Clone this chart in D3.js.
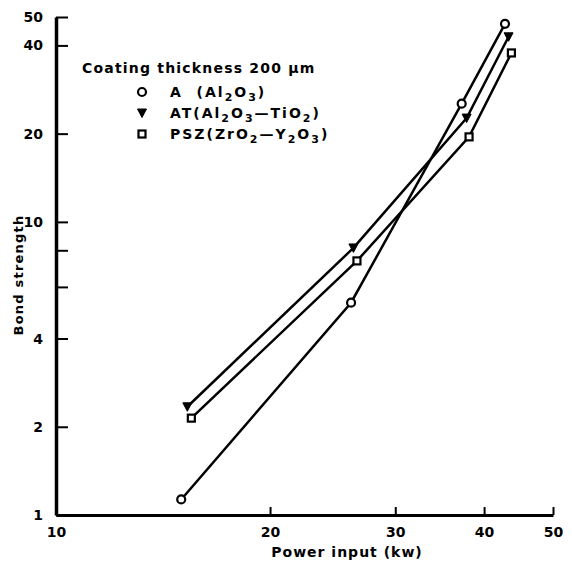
<!DOCTYPE html>
<html>
<head>
<meta charset="utf-8">
<script src="https://cdn.jsdelivr.net/npm/d3@7"></script>
<style>
  body { margin: 0; background: #fff; }
  svg text { font-family: "DejaVu Sans", sans-serif; font-weight: bold; fill: #000; }
  .axis path, .axis line { stroke: #000; }
</style>
</head>
<body>
<svg id="chart" width="572" height="570"></svg>
<script>
// power input (kW) and bond strength for each coating
var powerA   = [15.0, 26.0, 37.2, 42.8];
var bondA    = [1.13, 5.3, 25.3, 47.4];
var powerAT  = [15.3, 26.2, 37.8, 43.3];
var bondAT   = [2.34, 8.15, 22.6, 42.8];
var powerPSZ = [15.5, 26.5, 38.1, 43.7];
var bondPSZ  = [2.14, 7.36, 19.5, 37.7];

var xTickValues = [10, 20, 30, 40, 50];
var xTickLabels = ["10", "20", "30", "40", "50"];
var yTickValues = [1, 2, 4, 6, 8, 10, 20, 40, 50];
var yTickLabels = ["1", "2", "4", "", "", "10", "20", "40", "50"];

var svg = d3.select("#chart"),
    margin = {top: 17, right: 19, bottom: 55, left: 56},
    width = +svg.attr("width") - margin.left - margin.right,
    height = +svg.attr("height") - margin.top - margin.bottom;

var x = d3.scaleLog().domain([10, 50]).range([0, width]),
    y = d3.scaleLog().domain([1, 50]).range([height, 0]);

var g = svg.append("g")
    .attr("transform", "translate(" + margin.left + "," + margin.top + ")");

var xAxis = d3.axisBottom(x)
    .tickValues(xTickValues)
    .tickFormat(function(d, i) { return xTickLabels[i]; })
    .tickSizeInner(-8).tickSizeOuter(0).tickPadding(14);

var yAxis = d3.axisLeft(y)
    .tickValues(yTickValues)
    .tickFormat(function(d, i) { return yTickLabels[i]; })
    .tickSizeInner(-12).tickSizeOuter(0).tickPadding(13);

var gx = g.append("g")
    .attr("class", "axis axis--x")
    .attr("transform", "translate(0," + height + ")")
    .call(xAxis);

var gy = g.append("g")
    .attr("class", "axis axis--y")
    .call(yAxis);

gx.select(".domain").attr("stroke-width", 3);
gy.select(".domain").attr("stroke-width", 3.5);
gx.selectAll(".tick line").attr("stroke-width", 2);
gy.selectAll(".tick line").attr("stroke-width", 2);
gx.selectAll("text").attr("font-size", 14).attr("font-family", "DejaVu Sans").attr("font-weight", "bold").attr("dy", "0.55em");
gy.selectAll("text").attr("font-size", 14).attr("font-family", "DejaVu Sans").attr("font-weight", "bold");

// axis titles
svg.append("text")
    .attr("x", 347).attr("y", 557)
    .attr("text-anchor", "middle")
    .attr("font-size", 14)
    .attr("letter-spacing", 1)
    .text("Power input (kw)");

svg.append("text")
    .attr("transform", "translate(23,275) rotate(-90)")
    .attr("text-anchor", "middle")
    .attr("font-size", 13)
    .attr("letter-spacing", 1.2)
    .text("Bond strength");

var line = d3.line()
    .x(function(d) { return x(d[0]); })
    .y(function(d) { return y(d[1]); });

var series = [
  {key: "A", px: powerA, py: bondA},
  {key: "AT", px: powerAT, py: bondAT},
  {key: "PSZ", px: powerPSZ, py: bondPSZ}
];

series.forEach(function(s) {
  var pts = s.px.map(function(v, i) { return [v, s.py[i]]; });
  g.append("path")
      .datum(pts)
      .attr("fill", "none")
      .attr("stroke", "#000")
      .attr("stroke-width", 2.5)
      .attr("d", line);

  var m = g.selectAll(".m-" + s.key)
      .data(pts)
      .enter();
  drawMarker(m, s.key,
      function(d) { return x(d[0]); },
      function(d) { return y(d[1]); });
});

function drawMarker(sel, key, fx, fy) {
  if (key === "A") {
    sel.append("circle")
        .attr("cx", fx).attr("cy", fy)
        .attr("r", 4)
        .attr("fill", "#fff").attr("stroke", "#000").attr("stroke-width", 2.2);
  } else if (key === "AT") {
    sel.append("path")
        .attr("transform", function(d, i) { return "translate(" + fx(d, i) + "," + fy(d, i) + ")"; })
        .attr("d", "M-4.5,-4L4.5,-4L0,4.5Z")
        .attr("fill", "#000").attr("stroke", "#000").attr("stroke-width", 1);
  } else {
    sel.append("rect")
        .attr("x", function(d, i) { return fx(d, i) - 3.5; })
        .attr("y", function(d, i) { return fy(d, i) - 3.5; })
        .attr("width", 7).attr("height", 7)
        .attr("fill", "#fff").attr("stroke", "#000").attr("stroke-width", 2.2);
  }
}

// legend
var legend = svg.append("g");
legend.append("text")
    .attr("x", 82).attr("y", 73)
    .attr("font-size", 14)
    .attr("letter-spacing", 1.2)
    .text("Coating thickness 200 \u03bcm");

var legendItems = [
  {key: "A", parts: [["A\u00a0\u00a0(Al", 0], ["2", 1], ["O", 0], ["3", 1], [")", 0]]},
  {key: "AT", parts: [["AT(Al", 0], ["2", 1], ["O", 0], ["3", 1], ["\u2014TiO", 0], ["2", 1], [")", 0]]},
  {key: "PSZ", parts: [["PSZ(ZrO", 0], ["2", 1], ["\u2014Y", 0], ["2", 1], ["O", 0], ["3", 1], [")", 0]]}
];
var legendY = [92, 113, 134];

legendItems.forEach(function(item, i) {
  var row = legend.append("g");
  drawMarker(row.selectAll(null).data([0]).enter(), item.key,
      function() { return 142; }, function() { return legendY[i]; });
  var t = row.append("text")
      .attr("x", 170).attr("y", legendY[i] + 5)
      .attr("font-size", 14)
      .attr("letter-spacing", 2);
  item.parts.forEach(function(p, j) {
    var prev = j > 0 ? item.parts[j - 1][1] : 0;
    var ts = t.append("tspan").text(p[0]);
    if (p[1]) ts.attr("font-size", 11);
    ts.attr("dy", p[1] && !prev ? 4 : (!p[1] && prev ? -4 : 0));
  });
});
</script>
</body>
</html>
